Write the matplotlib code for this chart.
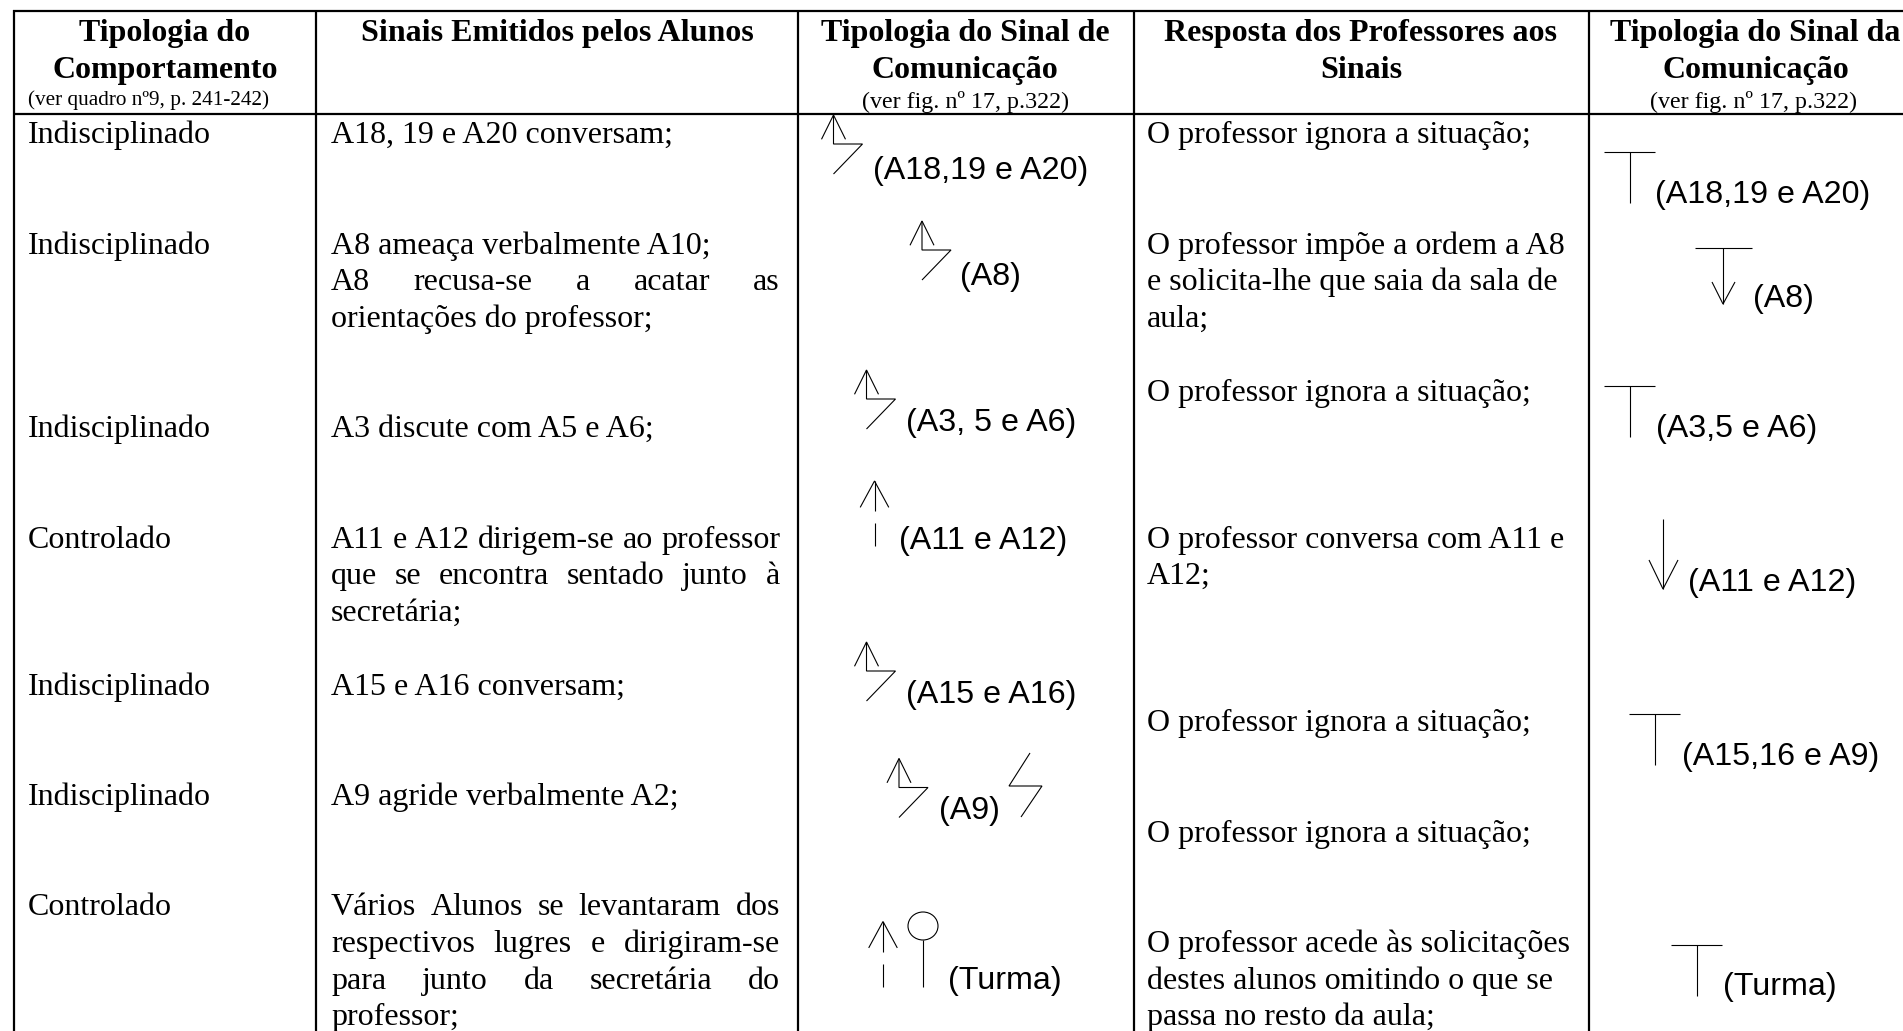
#!/usr/bin/env python
#
# Table of student signals and teacher responses, with hand drawn communication signs.

import matplotlib
matplotlib.use("Agg")
import matplotlib.pyplot as plt
from matplotlib.patches import Ellipse

headers = [
    ["Tipologia do", "Comportamento"],
    ["Sinais Emitidos pelos Alunos"],
    ["Tipologia do Sinal de", "Comunicação"],
    ["Resposta dos Professores aos", "Sinais"],
    ["Tipologia do Sinal da", "Comunicação"],
]
quadro_note = "(ver quadro nº9, p. 241-242)"
figure_note = "(ver fig. nº 17, p.322)"

behaviours = ["Indisciplinado", "Indisciplinado", "Indisciplinado", "Controlado",
              "Indisciplinado", "Indisciplinado", "Controlado"]
behaviour_lines = [0, 3, 8, 11, 15, 18, 21]

# (text, grid line, justified)
signals = [
    ("A18, 19 e A20 conversam;", 0, False),
    ("A8 ameaça verbalmente A10;", 3, False),
    ("A8 recusa-se a acatar as", 4, True),
    ("orientações do professor;", 5, False),
    ("A3 discute com A5 e A6;", 8, False),
    ("A11 e A12 dirigem-se ao professor", 11, True),
    ("que se encontra sentado junto à", 12, True),
    ("secretária;", 13, False),
    ("A15 e A16 conversam;", 15, False),
    ("A9 agride verbalmente A2;", 18, False),
    ("Vários Alunos se levantaram dos", 21, True),
    ("respectivos lugres e dirigiram-se", 22, True),
    ("para junto da secretária do", 23, True),
    ("professor;", 24, False),
]

responses = [
    ("O professor ignora a situação;", 0),
    ("O professor impõe a ordem a A8", 3),
    ("e solicita-lhe que saia da sala de", 4),
    ("aula;", 5),
    ("O professor ignora a situação;", 7),
    ("O professor conversa com A11 e", 11),
    ("A12;", 12),
    ("O professor ignora a situação;", 16),
    ("O professor ignora a situação;", 19),
    ("O professor acede às solicitações", 22),
    ("destes alunos omitindo o que se", 23),
    ("passa no resto da aula;", 24),
]

student_labels = ["(A18,19 e A20)", "(A8)", "(A3, 5 e A6)", "(A11 e A12)", "(A15 e A16)", "(A9)", "(Turma)"]
teacher_labels = ["(A18,19 e A20)", "(A8)", "(A3,5 e A6)", "(A11 e A12)", "(A15,16 e A9)", "(Turma)"]

SERIF = "Liberation Serif"
SANS = "Liberation Sans"
BODY = 23
LABEL = 23.2
THIN = 0.8

fig = plt.figure(figsize=(19.03, 10.31), dpi=100)
ax = fig.add_axes([0, 0, 1, 1])
ax.set_xlim(0, 1903)
ax.set_ylim(1031, 0)
ax.axis("off")


def grid_y(n):
    return 143.3 + n * 36.75


def seg(xs, ys):
    ax.plot(xs, ys, color="black", lw=THIN, solid_capstyle="butt", solid_joinstyle="miter")


def zigzag_up(x, y):
    # arrow going up that breaks into a lightning shape
    seg([x - 12, x, x + 12], [y + 24.3, y, y + 24.3])
    seg([x, x, x + 29, x], [y, y + 29, y + 29, y + 59])


def broken_up(x, y):
    seg([x - 14.3, x, x + 14.3], [y + 26.4, y, y + 26.4])
    seg([x, x], [y, y + 30])
    seg([x, x], [y + 42, y + 65])


def tee(x, y, w=25.5, h=51):
    seg([x - w, x + w], [y, y])
    seg([x, x], [y, y + h])


def sans_label(x, y, s):
    ax.text(x, y + 2.5, s, family=SANS, fontsize=LABEL, ha="left", va="center", color="black")


def justified(x0, x1, y, line):
    words = line.split(" ")
    r = fig.canvas.get_renderer()
    items = [ax.text(0, y, w, family=SERIF, fontsize=BODY, va="baseline") for w in words]
    widths = [t.get_window_extent(r).width for t in items]
    gap = (x1 - x0 - sum(widths)) / (len(words) - 1)
    x = x0
    for t, w in zip(items, widths):
        t.set_x(x)
        x += w + gap


# table rules
for x in [14, 316, 798, 1134, 1589]:
    ax.plot([x, x], [10, 1031], color="black", lw=1.6, solid_capstyle="butt")
for y in [11, 113.5]:
    ax.plot([13, 1903], [y, y], color="black", lw=1.6, solid_capstyle="butt")

# header
for cx, lines in zip([165, 557, 965, 1361, 1755.5], headers):
    for i, s in enumerate(lines):
        ax.text(cx, 41 + i * 37, s, family=SERIF, fontsize=BODY, weight="bold", ha="center", va="baseline")
ax.text(28, 105, quadro_note, family=SERIF, fontsize=15.3, ha="left", va="baseline")
ax.text(965, 108, figure_note, family=SERIF, fontsize=17.3, ha="center", va="baseline")
ax.text(1753.5, 108, figure_note, family=SERIF, fontsize=17.3, ha="center", va="baseline")

# text columns
for s, n in zip(behaviours, behaviour_lines):
    ax.text(28, grid_y(n), s, family=SERIF, fontsize=BODY, va="baseline")
for s, n, just in signals:
    if just:
        justified(331, 780, grid_y(n), s)
    else:
        ax.text(331, grid_y(n), s, family=SERIF, fontsize=BODY, va="baseline")
for s, n in responses:
    ax.text(1147, grid_y(n), s, family=SERIF, fontsize=BODY, va="baseline")

# student signs
zigzag_up(833.5, 115)
sans_label(873, 168, student_labels[0])
zigzag_up(922, 221)
sans_label(960, 275, student_labels[1])
zigzag_up(866.5, 370)
sans_label(906, 421, student_labels[2])
broken_up(874.5, 481)
sans_label(899, 538, student_labels[3])
zigzag_up(866.5, 642)
sans_label(906, 692, student_labels[4])
zigzag_up(899, 758.5)
sans_label(939, 809, student_labels[5])
seg([1030, 1009, 1042, 1021], [753, 786, 786, 817])
broken_up(883, 921.5)
ax.add_patch(Ellipse((923, 926), 30, 28, fill=False, ec="black", lw=THIN))
seg([923, 923], [940, 987])
sans_label(948, 979, student_labels[6])

# teacher signs
tee(1629.5, 151.5)
sans_label(1655, 193, teacher_labels[0])
seg([1695, 1752], [247.5, 247.5])
seg([1723, 1723], [247.5, 304])
seg([1712, 1723, 1735], [282, 304, 282])
sans_label(1753, 297, teacher_labels[1])
tee(1629.5, 386)
sans_label(1656, 427, teacher_labels[2])
seg([1663, 1663], [519, 589])
seg([1649, 1663, 1678], [560, 589, 560])
sans_label(1688, 580, teacher_labels[3])
tee(1654.5, 713.5)
sans_label(1682, 755, teacher_labels[4])
tee(1696.5, 945)
sans_label(1723, 985, teacher_labels[5])

plt.savefig("out.png", dpi=100)
